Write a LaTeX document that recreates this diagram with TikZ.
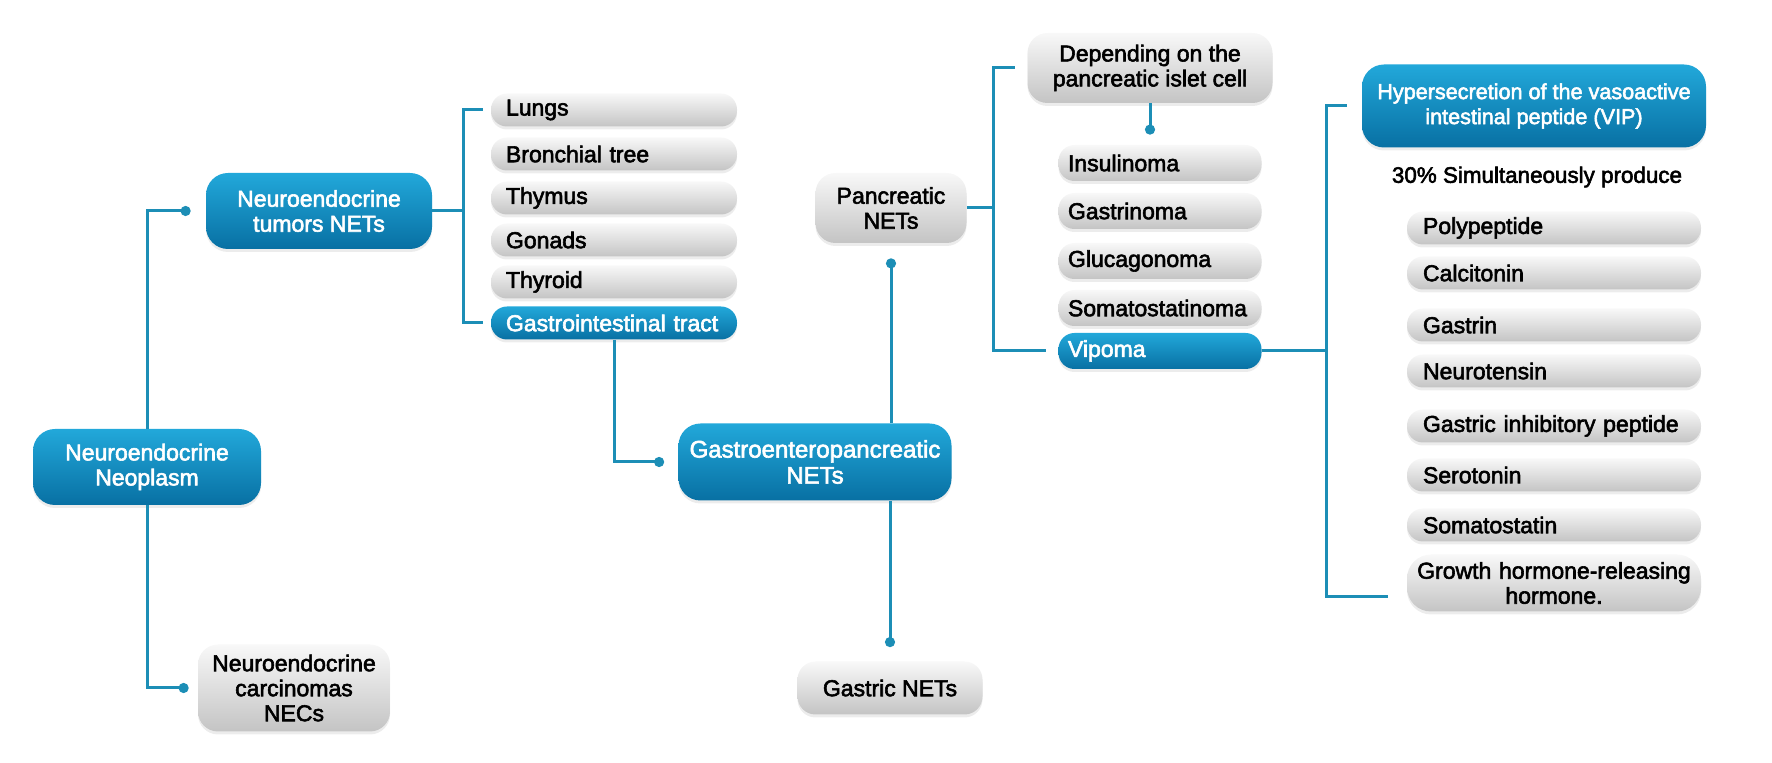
\documentclass[tikz,border=0pt]{standalone}
\usepackage{fontspec}
\setmainfont{Liberation Sans}
\newfontfamily\netfont{Liberation Sans}[FakeBold=2.5]
\usepackage{tikz}
\usetikzlibrary{positioning,arrows.meta,shadows}
\definecolor{netblue}{RGB}{34,168,218}
\definecolor{netbluedark}{RGB}{8,112,163}
\definecolor{linkblue}{RGB}{28,142,182}
\definecolor{greylight}{RGB}{248,248,248}
\definecolor{greydark}{RGB}{196,196,196}

\begin{document}
\begin{tikzpicture}[x=0.5pt, y=-0.5pt,
  base/.style={font=\netfont\fontsize{11.5}{12.5}\selectfont, align=center,
    inner sep=0pt, drop shadow={opacity=0.15, shadow xshift=0pt,
    shadow yshift=-1.5pt}},
  bluebox/.style={base, top color=netblue, bottom color=netbluedark,
    text=white, rounded corners=11pt},
  greybox/.style={base, top color=greylight, bottom color=greydark,
    text=black, rounded corners=10pt},
  bluefill/.style={top color=netblue, bottom color=netbluedark, text=white},
  organ/.style={greybox, minimum width=123pt, minimum height=16.5pt,
    text width=108pt, align=left, rounded corners=8pt},
  celltype/.style={greybox, minimum width=101.5pt, minimum height=18pt,
    text width=92pt, align=left, rounded corners=8pt},
  hormone/.style={greybox, minimum width=147pt, minimum height=16.5pt,
    text width=131pt, align=left, rounded corners=8pt},
  link/.style={draw=linkblue, line width=1.5pt},
  dotlink/.style={link, -{Circle[length=5pt]}, shorten >=7pt},
]
  \useasboundingbox (0,0) rectangle (1772,763);

  % left part
  \node[bluebox, minimum width=114pt, minimum height=38pt] (neo) at (147,467)
    {Neuroendocrine\\Neoplasm};
  \node[bluebox, minimum width=113pt, minimum height=38pt] (nets) at (319,211)
    {Neuroendocrine\\tumors NETs};
  \node[greybox, minimum width=96pt, minimum height=43.5pt] (necs) at (294,688)
    {Neuroendocrine\\carcinomas\\NECs};

  \foreach \name/\txt/\y in {lungs/Lungs/110, bronch/Bronchial tree/154,
      thymus/Thymus/198, gonads/Gonads/240, thyroid/Thyroid/282}
    \node[organ] (\name) at (614,\y) {\txt};
  \node[organ, bluefill] (gi) at (614,323) {Gastrointestinal tract};

  % middle part
  \node[bluebox, minimum width=136.5pt, minimum height=38.5pt,
    font=\netfont\fontsize{12}{13}\selectfont] (gep) at (815,462)
    {Gastroenteropancreatic\\NETs};
  \node[greybox, minimum width=75.5pt, minimum height=35pt] (pan) at (891,208)
    {Pancreatic\\NETs};
  \node[greybox, minimum width=92.5pt, minimum height=26.5pt,
    rounded corners=9pt] (gastric) at (890,688) {Gastric NETs};
  \node[greybox, minimum width=122.5pt, minimum height=35pt] (dep) at (1150,68)
    {Depending on the\\pancreatic islet cell};

  \foreach \name/\txt/\y in {ins/Insulinoma/163, gas/Gastrinoma/211,
      glu/Glucagonoma/261, som/Somatostatinoma/308}
    \node[celltype] (\name) at (1160,\y) {\txt};
  \node[celltype, bluefill] (vip) at (1160,351) {Vipoma};

  % right part
  \node[bluebox, minimum width=172pt, minimum height=41.5pt,
    font=\netfont\fontsize{10.8}{12.5}\selectfont] (hyper) at (1534,106)
    {Hypersecretion of the vasoactive\\intestinal peptide (VIP)};
  \node[font=\netfont\fontsize{11.2}{13}\selectfont, inner sep=0pt] (simul)
    at (1537,177) {30\% Simultaneously produce};

  \foreach \name/\txt/\y in {poly/Polypeptide/228, calc/Calcitonin/273,
      gastrin/Gastrin/325, neuro/Neurotensin/371,
      gip/Gastric inhibitory peptide/426, sero/Serotonin/475,
      somat/Somatostatin/525}
    \node[hormone] (\name) at (1554,\y) {\txt};
  \node[hormone, text width=145pt, align=center, minimum height=28.5pt,
    rounded corners=12pt] (ghrh) at (1554,583)
    {Growth hormone-releasing\\hormone.};

  % connectors
  \draw[dotlink, shorten >=7.5pt] (neo.north) |- (nets.west);
  \draw[dotlink, shorten >=4.5pt] (neo.south) |- (necs.west);
  \draw[link, shorten >=4pt] (nets.east) -- ++(15.5pt,0) coordinate (nb)
    |- (lungs.west);
  \draw[link, shorten >=4pt] (nb) |- (gi.west);
  \draw[dotlink] (gi.south) |- (gep.west);
  \draw[dotlink, shorten >=7.5pt] (gep.north -| pan.south) -- (pan.south);
  \draw[dotlink] (gep.south -| gastric.north) -- (gastric.north);
  \draw[link, shorten >=6pt] (pan.east) -- ++(13.5pt,0) coordinate (pb)
    |- (dep.west);
  \draw[link, shorten >=6pt] (pb) |- (vip.west);
  \draw[dotlink, shorten >=5pt] (dep.south) -- (dep.south |- ins.north);
  \draw[link, shorten >=7.5pt] (vip.east) -- ++(32.5pt,0) coordinate (vb)
    |- (hyper.west);
  \draw[link, shorten >=9.5pt] (vb) |- ([yshift=-7pt]ghrh.west);
\end{tikzpicture}
\end{document}
